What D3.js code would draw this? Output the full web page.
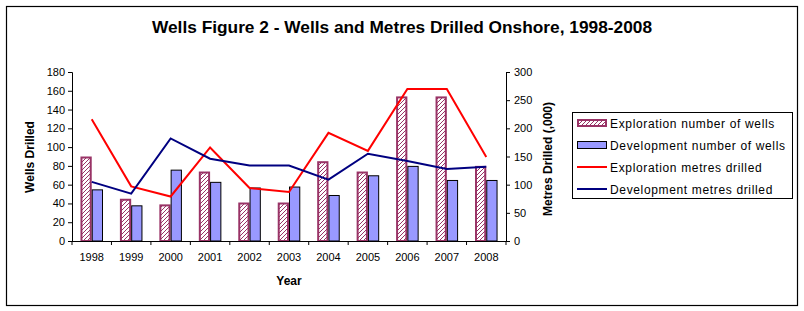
<!DOCTYPE html>
<html>
<head>
<meta charset="utf-8">
<script src="https://cdn.jsdelivr.net/npm/d3@7"></script>
<style>
  body { margin: 0; background: #fff; }
  text { font-family: "Liberation Sans", Arial, sans-serif; }
</style>
</head>
<body>
<div id="chart"></div>
<script>
// chart data
var years = ['1998','1999','2000','2001','2002','2003','2004','2005','2006','2007','2008'];
var exploWells = [90, 45, 39, 74, 41, 41, 85, 74, 154, 154, 80];
var devWells   = [55, 38, 76, 63, 57, 58, 49, 70, 80, 65, 65];
var exploMetres = [216, 97, 79, 166, 94, 87, 192, 160, 270, 270, 149];
var devMetres   = [105, 84, 182, 146, 134, 134, 109, 155, 142, 128, 132];
var leftTicks = [0, 20, 40, 60, 80, 100, 120, 140, 160, 180];
var rightTicks = [0, 50, 100, 150, 200, 250, 300];
var legendLabels = ['Exploration number of wells', 'Development number of wells',
                    'Exploration metres drilled', 'Development metres drilled'];

const width = 804, height = 311;
const plot = {left: 72, right: 506, top: 72, bottom: 241};

const svg = d3.select('#chart').append('svg')
    .attr('width', width)
    .attr('height', height);

// hatch pattern for the exploration bars
const defs = svg.append('defs');
const pat = defs.append('pattern')
    .attr('id', 'hatch')
    .attr('patternUnits', 'userSpaceOnUse')
    .attr('width', 4).attr('height', 4);
pat.append('rect').attr('width', 4).attr('height', 4).attr('fill', '#fff');
pat.append('path')
    .attr('d', 'M-1,1 l2,-2 M0,4 l4,-4 M3,5 l2,-2')
    .attr('stroke', '#993366')
    .attr('stroke-width', 1);

// outer frame
svg.append('rect')
    .attr('x', 6.5).attr('y', 6.5)
    .attr('width', 791).attr('height', 299)
    .attr('fill', 'none').attr('stroke', '#000').attr('stroke-width', 1.2);

svg.append('text')
    .attr('x', 402).attr('y', 33)
    .attr('text-anchor', 'middle')
    .attr('textLength', 500).attr('lengthAdjust', 'spacingAndGlyphs')
    .style('font-size', '17px').style('font-weight', 'bold')
    .text('Wells Figure 2 - Wells and Metres Drilled Onshore, 1998-2008');

const x = d3.scaleBand().domain(years).range([plot.left, plot.right]);
const yL = d3.scaleLinear().domain([0, 180]).range([plot.bottom, plot.top]);
const yR = d3.scaleLinear().domain([0, 300]).range([plot.bottom, plot.top]);

const bw = x.bandwidth() / 3.5; // gap width 150%
const gap = (x.bandwidth() - 2 * bw) / 2;

// bars
svg.append('g').selectAll('rect')
    .data(years)
    .join('rect')
    .attr('x', d => x(d) + gap + 1)
    .attr('y', (d, i) => yL(exploWells[i]) + 1)
    .attr('width', bw - 2)
    .attr('height', (d, i) => plot.bottom - yL(exploWells[i]) - 1)
    .attr('fill', 'url(#hatch)')
    .attr('stroke', '#993366').attr('stroke-width', 2);

svg.append('g').selectAll('rect')
    .data(years)
    .join('rect')
    .attr('x', d => x(d) + gap + bw + 0.5)
    .attr('y', (d, i) => yL(devWells[i]) + 0.5)
    .attr('width', bw - 1)
    .attr('height', (d, i) => plot.bottom - yL(devWells[i]) - 0.5)
    .attr('fill', '#9999ff')
    .attr('stroke', '#000').attr('stroke-width', 1);

// lines
const line = vals => d3.line()
    .x((d, i) => x(years[i]) + x.bandwidth() / 2)
    .y(d => yR(d))(vals);

svg.append('path').attr('d', line(exploMetres))
    .attr('fill', 'none').attr('stroke', '#ff0000').attr('stroke-width', 2);
svg.append('path').attr('d', line(devMetres))
    .attr('fill', 'none').attr('stroke', '#000080').attr('stroke-width', 2);

// axes
const axisL = svg.append('g')
    .attr('transform', 'translate(' + plot.left + ',0)')
    .call(d3.axisLeft(yL).tickValues(leftTicks).tickSize(4).tickPadding(3));
const axisR = svg.append('g')
    .attr('transform', 'translate(' + plot.right + ',0)')
    .call(d3.axisRight(yR).tickValues(rightTicks).tickSize(4).tickPadding(4));
const axisB = svg.append('g')
    .attr('transform', 'translate(0,' + plot.bottom + ')')
    .call(d3.axisBottom(x).tickSize(0).tickPadding(12));

// category boundary ticks
axisB.selectAll('.bound')
    .data(d3.range(years.length + 1))
    .join('line')
    .attr('x1', i => plot.left + i * x.step())
    .attr('x2', i => plot.left + i * x.step())
    .attr('y1', 0).attr('y2', 4)
    .attr('stroke', '#000');

[axisL, axisR, axisB].forEach(function(a) {
    a.select('.domain').attr('stroke', '#000').attr('stroke-width', 1);
    a.selectAll('.tick line').attr('stroke', '#000');
    a.selectAll('text').attr('fill', '#000')
        .style('font-size', '11px')
        .style('font-family', '"Liberation Sans", Arial, sans-serif');
});
axisB.select('.domain').attr('d', 'M' + plot.left + ',0.5H' + plot.right);

// axis titles
svg.append('text')
    .attr('transform', 'translate(33.5,157) rotate(-90)')
    .attr('text-anchor', 'middle')
    .style('font-size', '12px').style('font-weight', 'bold')
    .text('Wells Drilled');
svg.append('text')
    .attr('transform', 'translate(551.5,159) rotate(-90)')
    .attr('text-anchor', 'middle')
    .style('font-size', '12px').style('font-weight', 'bold')
    .text('Metres Drilled (,000)');
svg.append('text')
    .attr('x', 289).attr('y', 285)
    .attr('text-anchor', 'middle')
    .style('font-size', '12px').style('font-weight', 'bold')
    .text('Year');

// legend
const lg = svg.append('g');
lg.append('rect')
    .attr('x', 572.5).attr('y', 112.5)
    .attr('width', 220).attr('height', 86)
    .attr('fill', '#fff').attr('stroke', '#000').attr('stroke-width', 1);

const rows = lg.selectAll('g.row')
    .data(legendLabels)
    .join('g')
    .attr('class', 'row')
    .attr('transform', (d, i) => 'translate(0,' + (123 + i * 22) + ')');

rows.filter((d, i) => i === 0).append('rect')
    .attr('x', 578).attr('y', -3).attr('width', 28).attr('height', 6)
    .attr('fill', 'url(#hatch)').attr('stroke', '#993366').attr('stroke-width', 2);
rows.filter((d, i) => i === 1).append('rect')
    .attr('x', 577.5).attr('y', -3.5).attr('width', 29).attr('height', 7)
    .attr('fill', '#9999ff').attr('stroke', '#000').attr('stroke-width', 1);
rows.filter((d, i) => i >= 2).append('line')
    .attr('x1', 577).attr('x2', 607).attr('y1', 0).attr('y2', 0)
    .attr('stroke', (d, i) => i === 0 ? '#ff0000' : '#000080')
    .attr('stroke-width', 2);

rows.append('text')
    .attr('x', 610).attr('y', 4.5)
    .style('font-size', '12px')
    .style('letter-spacing', '0.65px')
    .text(d => d);
</script>
</body>
</html>
